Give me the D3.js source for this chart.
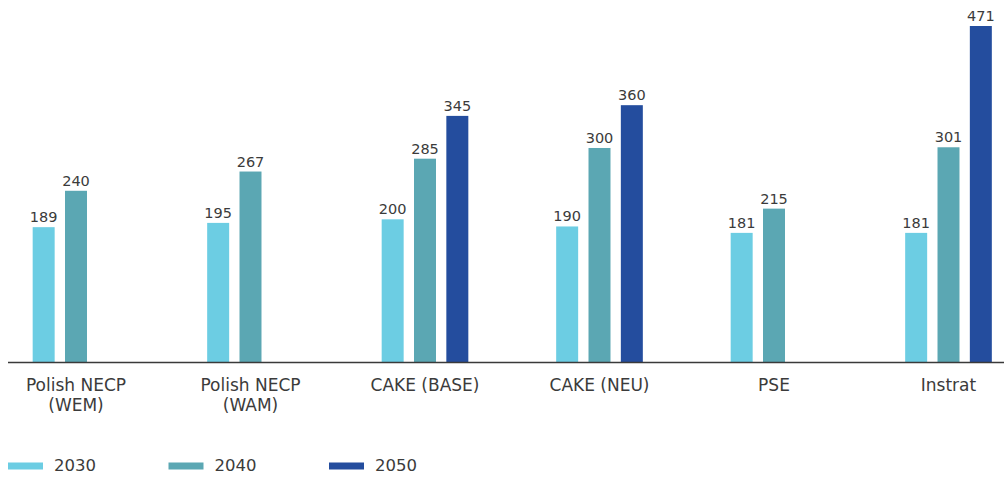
<!DOCTYPE html>
<html lang="en">
<head>
    <meta charset="UTF-8">
    <title>Grouped bars</title>
    <script src="https://d3js.org/d3.v7.min.js"></script>
    <style>
      body { margin: 0; background: #fff; }
      text { font-family: "DejaVu Sans", sans-serif; fill: #3b3b3b; }
    </style>
</head>
<body>
    <div id="my_dataviz"></div>
    <script>

    // data
    const categories = ["Polish NECP|(WEM)", "Polish NECP|(WAM)", "CAKE (BASE)", "CAKE (NEU)", "PSE", "Instrat"]
    const years = ["2030", "2040", "2050"]
    const values2030 = [189, 195, 200, 190, 181, 181]
    const values2040 = [240, 267, 285, 300, 215, 301]
    const values2050 = [null, null, 345, 360, null, 471]
    const colors = ["#6ccde3", "#5ba7b3", "#244d9e"]

    const width = 1004, height = 477
    const baseY = 362

    const svg = d3.select("#my_dataviz")
      .append("svg")
        .attr("width", width)
        .attr("height", height)

    // group centres
    const x = d3.scalePoint()
      .domain(categories)
      .range([76, 948.5])

    // bars inside a group
    const xSub = d3.scaleBand()
      .domain(years)
      .range([-48.5, 48.5])
      .paddingInner(0.32)
      .paddingOuter(0.16)

    const y = d3.scaleLinear()
      .domain([0, 471])
      .range([baseY, 26])

    const color = d3.scaleOrdinal().domain(years).range(colors)

    const series = [values2030, values2040, values2050]
    const rows = []
    categories.forEach(function(c, i) {
      years.forEach(function(yr, j) {
        if (series[j][i] != null) rows.push({cat: c, year: yr, value: series[j][i]})
      })
    })

    const groups = svg.append("g")

    groups.selectAll("rect")
      .data(rows)
      .join("rect")
        .attr("x", d => x(d.cat) + xSub(d.year))
        .attr("y", d => y(d.value))
        .attr("width", xSub.bandwidth())
        .attr("height", d => baseY - y(d.value))
        .attr("fill", d => color(d.year))

    groups.selectAll("text.val")
      .data(rows)
      .join("text")
        .attr("class", "val")
        .attr("x", d => x(d.cat) + xSub(d.year) + xSub.bandwidth() / 2)
        .attr("y", d => y(d.value) - 5)
        .attr("text-anchor", "middle")
        .style("font-size", "14.5px")
        .text(d => d.value)

    // baseline
    svg.append("line")
      .attr("x1", 8).attr("x2", width)
      .attr("y1", baseY + 0.5).attr("y2", baseY + 0.5)
      .attr("stroke", "#3a3a3a")
      .attr("stroke-width", 1.5)

    // category labels, one text per line
    const labelLines = []
    categories.forEach(function(c) {
      c.split("|").forEach(function(t, i) {
        labelLines.push({cat: c, text: t, line: i})
      })
    })

    svg.append("g").selectAll("text")
      .data(labelLines)
      .join("text")
        .attr("text-anchor", "middle")
        .attr("x", d => x(d.cat))
        .attr("y", d => 391 + d.line * 19.5)
        .style("font-size", "17px")
        .text(d => d.text)

    // legend
    const legend = svg.append("g").selectAll("g")
      .data(years)
      .join("g")
        .attr("transform", (d, i) => `translate(${8 + i * 160.5}, 466)`)

    legend.append("rect")
      .attr("x", 0).attr("y", -3.5)
      .attr("width", 35).attr("height", 7)
      .attr("fill", d => color(d))

    legend.append("text")
      .attr("x", 46)
      .attr("y", 0)
      .attr("dominant-baseline", "middle")
      .style("font-size", "16.5px")
      .text(d => d)

  </script>
</body>
</html>
